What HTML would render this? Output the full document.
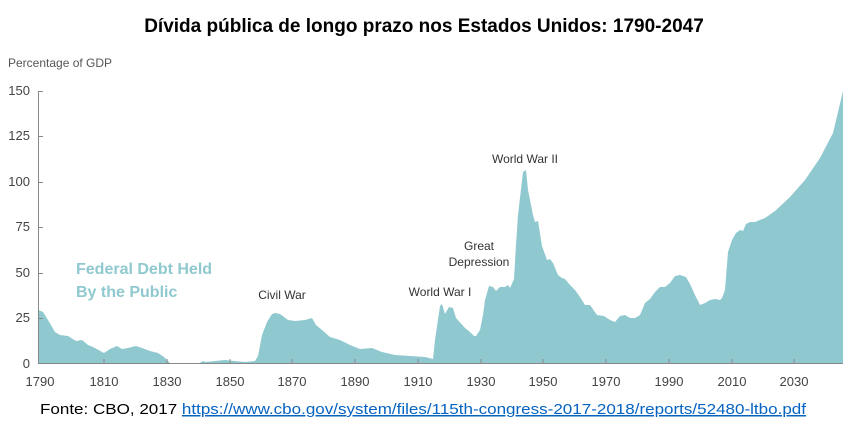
<!DOCTYPE html>
<html><head><meta charset="utf-8"><style>
body{margin:0;background:#fff;width:849px;height:422px;overflow:hidden}
</style></head><body>
<svg width="849" height="422" xmlns="http://www.w3.org/2000/svg" font-family="Liberation Sans, sans-serif">
<text x="424" y="32" text-anchor="middle" font-size="19" font-weight="bold" fill="#000">Dívida pública de longo prazo nos Estados Unidos: 1790-2047</text>
<text x="8" y="67" font-size="12" fill="#555">Percentage of GDP</text>
<polygon fill="#8fc9cf" points="38,363 38,310 43,312 48,320 55,332 60,335 68,336 76,341 82,340 88,345 93,347 104,353 110,349 117,346 122,349 128,348 136,346 142,348 150,351 158,353 164,357 170,363 200,363 203,361 206,362 215,361 225,360 235,361 245,362 255,361 258,356 262,335 267,322 272,314 275,313 280,314 288,320 295,321 305,320 312,318 316,325 322,330 330,337 340,340 350,345 360,349 372,348 382,352 395,355 410,356 425,357 433,359 435,340 440,306 442,304 445,314 449,307 453,308 456,318 465,328 470,332 474,336 476,336 480,330 483,315 485,300 489,286 493,287 496,291 500,287 505,287 508,285 510,288 514,279 516,245 518,215 523,172 526,170 528,190 533,215 535,222 538,221 542,246 547,260 550,259 553,263 558,275 562,278 565,279 570,285 575,290 580,297 585,305 590,305 597,315 604,316 610,320 615,322 620,316 625,315 630,318 635,318 640,315 645,303 650,299 655,292 660,287 665,287 670,283 675,276 680,275 686,277 690,284 695,295 700,305 705,303 710,300 715,299 720,300 722,298 725,290 728,252 732,240 736,233 740,230 743,231 746,224 750,222 755,222 765,218 775,211 790,197 805,180 820,158 833,133 843,91 843,363"/>
<g stroke="#888" stroke-width="1">
<line x1="38.5" y1="91" x2="38.5" y2="363"/>
<line x1="38" y1="363.5" x2="843" y2="363.5"/>
<line x1="38" y1="91.5" x2="43" y2="91.5"/><line x1="38" y1="136.5" x2="43" y2="136.5"/><line x1="38" y1="182.5" x2="43" y2="182.5"/><line x1="38" y1="227.5" x2="43" y2="227.5"/><line x1="38" y1="273.5" x2="43" y2="273.5"/><line x1="38" y1="318.5" x2="43" y2="318.5"/>
</g>
<g stroke="#888"><path d="M104,363v-4M167,363v-4M230,363v-4M292,363v-4M355,363v-4M418,363v-4M481,363v-4M543,363v-4M606,363v-4M669,363v-4M732,363v-4M794,363v-4"/></g>
<g font-size="13" fill="#444" text-anchor="end">
<text x="30" y="95">150</text><text x="30" y="140">125</text><text x="30" y="186">100</text><text x="30" y="231">75</text><text x="30" y="277">50</text><text x="30" y="322">25</text><text x="30" y="368">0</text></g>
<g font-size="13" fill="#444" text-anchor="middle">
<text x="40" y="386">1790</text><text x="104" y="386">1810</text><text x="167" y="386">1830</text><text x="230" y="386">1850</text><text x="292" y="386">1870</text><text x="355" y="386">1890</text><text x="418" y="386">1910</text><text x="481" y="386">1930</text><text x="543" y="386">1950</text><text x="606" y="386">1970</text><text x="669" y="386">1990</text><text x="732" y="386">2010</text><text x="794" y="386">2030</text></g>
<g font-size="16" font-weight="bold" fill="#8fc9cf"><text x="76" y="274">Federal Debt Held</text><text x="76" y="297">By the Public</text></g>
<g font-size="12" fill="#333" text-anchor="middle">
<text x="282" y="299">Civil War</text><text x="440" y="296">World War I</text><text x="479" y="250">Great</text><text x="479" y="266">Depression</text><text x="525" y="163">World War II</text></g>
<text x="40" y="414" font-size="15" fill="#000" textLength="766" lengthAdjust="spacingAndGlyphs">Fonte: CBO, 2017 <tspan fill="#0563c1" text-decoration="underline">https://www.cbo.gov/system/files/115th-congress-2017-2018/reports/52480-ltbo.pdf</tspan></text>
</svg>
</body></html>
